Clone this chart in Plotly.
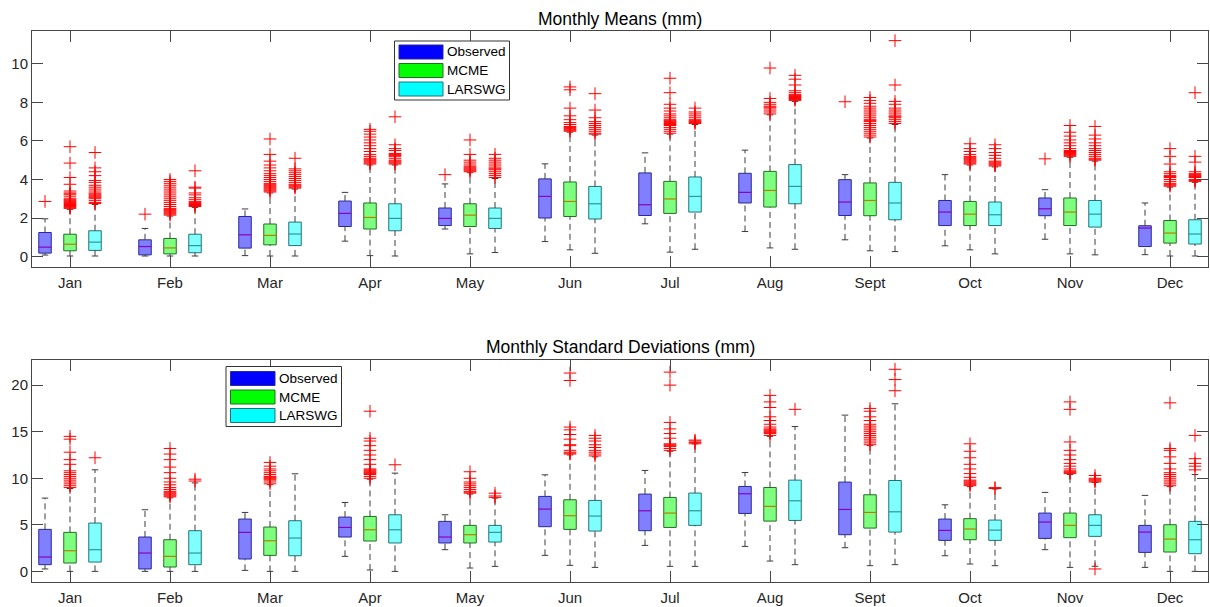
import plotly.graph_objects as go

months = ["Jan", "Feb", "Mar", "Apr", "May", "Jun", "Jul", "Aug", "Sept", "Oct", "Nov", "Dec"]
series_names = ["Observed", "MCME", "LARSWG"]

# ---------------- Monthly means (mm) ----------------
mean_obs_lower = [0.08, 0.03, 0.05, 0.8, 1.43, 0.78, 1.7, 1.3, 0.87, 0.56, 0.9, 0.1]
mean_obs_q1 = [0.18, 0.09, 0.44, 1.56, 1.61, 2.0, 2.13, 2.78, 2.13, 1.61, 2.12, 0.52]
mean_obs_med = [0.49, 0.52, 1.13, 2.24, 1.98, 3.12, 2.69, 3.33, 2.83, 2.31, 2.48, 1.48]
mean_obs_q3 = [1.25, 0.87, 2.08, 2.88, 2.52, 4.03, 4.34, 4.32, 3.99, 2.91, 3.04, 1.6]
mean_obs_upper = [1.96, 1.46, 2.47, 3.33, 3.77, 4.81, 5.38, 5.52, 4.25, 4.25, 3.47, 2.78]
mean_obs_out = [[2.86], [2.2], [], [], [4.25], [], [], [], [8.03], [], [5.07], []]

mean_mcme_lower = [0.03, 0.03, 0.03, 0.05, 0.14, 0.35, 0.23, 0.45, 0.3, 0.35, 0.14, 0.03]
mean_mcme_q1 = [0.3, 0.14, 0.61, 1.43, 1.56, 2.08, 2.24, 2.57, 2.12, 1.61, 1.61, 0.7]
mean_mcme_med = [0.64, 0.45, 1.1, 2.03, 2.15, 2.86, 2.99, 3.43, 2.91, 2.2, 2.31, 1.22]
mean_mcme_q3 = [1.16, 0.94, 1.69, 2.78, 2.74, 3.87, 3.9, 4.42, 3.82, 2.86, 3.04, 1.87]
mean_mcme_upper = [2.45, 2.1, 3.3, 4.75, 4.35, 6.45, 6.35, 7.35, 6.15, 4.75, 5.15, 3.6]
mean_mcme_out = [
    [2.5, 2.55, 2.6, 2.65, 2.7, 2.75, 2.8, 2.85, 2.9, 2.95, 3.0, 3.1, 3.2, 3.25, 3.3, 3.4, 3.75, 4.1, 4.85, 5.7],
    [2.15, 2.2, 2.25, 2.3, 2.35, 2.4, 2.45, 2.5, 2.6, 2.7, 2.8, 2.9, 3.0, 3.1, 3.2, 3.3, 3.4, 3.5, 3.6, 3.7, 3.8, 3.9, 4.0],
    [3.35, 3.4, 3.45, 3.5, 3.55, 3.6, 3.65, 3.7, 3.75, 3.8, 3.9, 4.0, 4.1, 4.2, 4.3, 4.45, 4.6, 4.75, 4.95, 5.3, 6.1],
    [4.8, 4.85, 4.9, 4.95, 5.0, 5.05, 5.1, 5.2, 5.3, 5.45, 5.6, 5.75, 5.9, 6.05, 6.2, 6.35, 6.5, 6.6],
    [4.4, 4.45, 4.5, 4.55, 4.6, 4.65, 4.7, 4.8, 4.9, 5.0, 5.3, 6.05],
    [6.5, 6.55, 6.6, 6.65, 6.7, 6.75, 6.85, 6.95, 7.1, 7.3, 7.7, 8.65, 8.8],
    [6.4, 6.5, 6.6, 6.7, 6.8, 6.85, 6.9, 6.95, 7.0, 7.05, 7.1, 7.2, 7.3, 7.4, 7.55, 7.7, 7.9, 8.5, 9.25],
    [7.4, 7.5, 7.6, 7.7, 7.75, 7.8, 7.9, 8.0, 8.2, 9.78],
    [6.2, 6.3, 6.4, 6.5, 6.6, 6.7, 6.8, 6.9, 7.0, 7.05, 7.1, 7.2, 7.3, 7.4, 7.5, 7.6, 7.7, 7.8, 7.95, 8.1, 8.25],
    [4.8, 4.85, 4.9, 4.95, 5.0, 5.05, 5.1, 5.15, 5.2, 5.3, 5.45, 5.6, 5.85],
    [5.2, 5.25, 5.3, 5.35, 5.4, 5.45, 5.5, 5.6, 5.75, 5.9, 6.05, 6.25, 6.45, 6.8],
    [3.65, 3.7, 3.75, 3.8, 3.9, 4.0, 4.1, 4.15, 4.2, 4.3, 4.4, 4.8, 5.2, 5.6],
]

mean_lars_lower = [0.03, 0.03, 0.03, 0.03, 0.21, 0.17, 0.38, 0.38, 0.26, 0.14, 0.09, 0.03]
mean_lars_q1 = [0.32, 0.2, 0.57, 1.34, 1.46, 1.95, 2.31, 2.74, 1.91, 1.61, 1.53, 0.65]
mean_lars_med = [0.75, 0.57, 1.17, 1.98, 1.98, 2.74, 3.12, 3.64, 2.78, 2.17, 2.2, 1.17]
mean_lars_q3 = [1.34, 1.16, 1.79, 2.74, 2.52, 3.64, 4.13, 4.77, 3.85, 2.83, 2.91, 1.91]
mean_lars_upper = [2.7, 2.55, 3.5, 4.75, 4.05, 6.3, 6.85, 8.05, 6.85, 4.65, 4.95, 3.85]
mean_lars_out = [
    [2.75, 2.8, 2.9, 3.0, 3.05, 3.1, 3.15, 3.2, 3.25, 3.3, 3.4, 3.5, 3.6, 3.7, 3.85, 3.95, 4.2, 4.4, 4.6, 5.4],
    [2.6, 2.65, 2.7, 2.75, 2.8, 2.85, 2.95, 3.05, 3.2, 3.3, 3.55, 3.6, 4.45],
    [3.55, 3.6, 3.65, 3.7, 3.75, 3.85, 3.95, 4.05, 4.15, 4.25, 4.35, 4.45, 4.55, 5.1],
    [4.8, 4.85, 4.9, 4.95, 5.0, 5.1, 5.2, 5.25, 5.3, 5.35, 5.5, 5.6, 5.8, 7.25],
    [4.1, 4.2, 4.3, 4.4, 4.5, 4.55, 4.6, 4.7, 4.8, 4.9, 5.0, 5.1, 5.3],
    [6.35, 6.4, 6.5, 6.6, 6.7, 6.8, 6.9, 7.0, 7.2, 7.6, 8.45],
    [6.9, 6.95, 7.0, 7.05, 7.1, 7.2, 7.3, 7.4, 7.5, 7.7],
    [8.1, 8.15, 8.2, 8.25, 8.3, 8.35, 8.4, 8.5, 8.6, 8.9, 9.2, 9.4],
    [6.9, 7.0, 7.1, 7.2, 7.25, 7.3, 7.4, 7.5, 7.6, 7.7, 7.9, 8.05, 8.9, 11.2],
    [4.7, 4.75, 4.8, 4.85, 4.9, 4.95, 5.1, 5.25, 5.4, 5.6, 5.8],
    [5.0, 5.05, 5.1, 5.2, 5.3, 5.4, 5.5, 5.6, 5.75, 5.9, 6.1, 6.3, 6.75],
    [3.9, 3.95, 4.0, 4.1, 4.15, 4.2, 4.25, 4.3, 4.4, 4.9, 5.2, 8.5],
]

# ---------------- Monthly standard deviations (mm) ----------------
sd_obs_lower = [0.26, 0.0, 0.11, 1.61, 2.33, 1.72, 2.79, 2.68, 2.54, 1.68, 2.33, 0.43]
sd_obs_q1 = [0.72, 0.26, 1.33, 3.69, 3.05, 4.8, 4.37, 6.22, 3.94, 3.33, 3.54, 2.04]
sd_obs_med = [1.54, 1.97, 4.19, 4.72, 3.69, 6.69, 6.51, 8.34, 6.65, 4.4, 5.3, 4.22]
sd_obs_q3 = [4.51, 3.69, 5.62, 5.83, 5.37, 8.05, 8.3, 9.12, 9.59, 5.62, 6.26, 4.94]
sd_obs_upper = [7.87, 6.62, 6.33, 7.4, 6.08, 10.37, 10.84, 10.62, 16.78, 7.15, 8.48, 8.16]
sd_obs_out = [[], [], [], [], [], [], [], [], [], [], [], []]

sd_mcme_lower = [0.0, 0.0, 0.0, 0.15, 0.36, 0.65, 0.54, 1.11, 0.61, 0.79, 0.43, 0.0]
sd_mcme_q1 = [0.9, 0.47, 1.72, 3.26, 3.05, 4.51, 4.72, 5.4, 4.65, 3.4, 3.62, 2.08]
sd_mcme_med = [2.22, 1.61, 3.29, 4.47, 3.94, 5.98, 6.26, 6.98, 6.33, 4.55, 4.94, 3.47]
sd_mcme_q3 = [4.19, 3.4, 4.76, 5.9, 4.94, 7.69, 7.94, 9.01, 8.23, 5.66, 6.26, 5.01]
sd_mcme_upper = [8.9, 7.9, 9.3, 9.9, 8.3, 12.5, 12.9, 14.5, 13.5, 9.1, 10.4, 9.1]
sd_mcme_out = [
    [9.0, 9.2, 9.4, 9.6, 9.8, 10.0, 10.2, 10.4, 10.6, 10.8, 11.5, 12.0, 12.8, 14.2, 14.5],
    [8.0, 8.1, 8.2, 8.3, 8.4, 8.5, 8.6, 8.8, 9.0, 9.3, 9.6, 10.0, 10.6, 11.2, 12.0, 12.6, 13.2],
    [9.4, 9.6, 9.8, 9.9, 10.0, 10.1, 10.2, 10.4, 10.6, 10.8, 11.0, 11.3, 11.7],
    [10.0, 10.2, 10.4, 10.5, 10.6, 10.7, 10.8, 10.9, 11.0, 11.5, 12.0, 12.5, 13.0, 13.5, 14.0, 14.3, 17.2],
    [8.4, 8.5, 8.6, 8.8, 9.0, 9.2, 9.4, 9.6, 10.0, 10.7],
    [12.6, 12.7, 12.8, 13.0, 13.5, 13.6, 14.2, 14.7, 15.2, 15.5, 20.5, 21.3],
    [13.0, 13.2, 13.4, 13.5, 13.6, 13.7, 14.3, 14.8, 15.3, 16.0, 20.0, 21.4],
    [14.6, 14.8, 14.9, 15.0, 15.1, 15.2, 15.3, 15.5, 15.8, 16.2, 16.6, 17.6, 18.2, 18.9],
    [13.6, 13.8, 14.0, 14.2, 14.4, 14.6, 14.8, 15.0, 15.2, 15.4, 15.6, 15.8, 16.2, 16.6, 17.2, 17.5],
    [9.2, 9.3, 9.4, 9.5, 9.6, 9.7, 9.8, 10.1, 10.5, 11.0, 11.5, 12.2, 12.9, 13.7],
    [10.5, 10.6, 10.7, 10.8, 11.0, 11.3, 11.6, 12.0, 12.5, 13.0, 13.9, 17.4, 18.2],
    [9.2, 9.4, 9.6, 9.8, 10.0, 10.2, 10.4, 10.6, 11.0, 11.6, 12.3, 13.0, 13.2, 18.1],
]

sd_lars_lower = [0.0, 0.0, 0.0, 0.0, 0.54, 0.43, 0.54, 0.72, 0.72, 0.61, 0.55, 0.0]
sd_lars_q1 = [1.0, 0.72, 1.68, 3.05, 3.15, 4.33, 4.94, 5.47, 4.22, 3.33, 3.76, 1.9]
sd_lars_med = [2.33, 1.97, 3.58, 4.47, 4.19, 5.94, 6.51, 7.58, 6.4, 4.43, 4.94, 3.4]
sd_lars_q3 = [5.19, 4.37, 5.44, 6.08, 4.94, 7.62, 8.41, 9.8, 9.76, 5.51, 6.08, 5.37]
sd_lars_upper = [10.91, 9.5, 10.48, 10.55, 7.87, 12.3, 13.7, 15.56, 18.0, 8.85, 9.55, 10.4]
sd_lars_out = [
    [12.2], [9.7, 9.9], [], [11.45], [7.95, 8.1, 8.4],
    [12.4, 12.6, 12.8, 13.0, 13.3, 13.6, 14.0, 14.3, 14.6],
    [13.7, 13.85, 14.0, 14.1], [17.4], [19.4, 20.6, 21.7], [8.9, 9.0],
    [9.6, 9.7, 9.8, 9.9, 10.0, 10.3, 0.26], [10.9, 11.3, 11.6, 12.1, 14.6],
]

# ---------------- styling ----------------
fills = ["rgba(0,0,255,0.5)", "rgba(0,255,0,0.5)", "rgba(0,255,255,0.5)"]
solid = ["rgb(0,0,255)", "rgb(0,255,0)", "rgb(0,255,255)"]
edges = ["rgb(40,40,150)", "rgb(35,110,35)", "rgb(35,115,115)"]
medcols = ["rgb(140,0,190)", "rgb(175,130,0)", "rgb(50,150,150)"]
offsets = [-0.25, 0.0, 0.25]
BOXW = 0.125
CAPW = 0.065
WH = "rgb(60,60,60)"
AX = "rgb(70,70,70)"
FONT = "Liberation Sans, Arial, sans-serif"

fig = go.Figure()


def add_panel(stats, xa, ya):
    for s, (lo, q1, md, q3, up, outs) in enumerate(stats):
        pos = [m + 1 + offsets[s] for m in range(12)]
        wx, wy = [], []
        cx, cy = [], []
        mx, my = [], []
        ox, oy = [], []
        for i, p in enumerate(pos):
            wx += [p, p, None, p, p, None]
            wy += [q3[i], up[i], None, lo[i], q1[i], None]
            cx += [p - CAPW / 2, p + CAPW / 2, None, p - CAPW / 2, p + CAPW / 2, None]
            cy += [up[i], up[i], None, lo[i], lo[i], None]
            mx += [p - BOXW / 2, p + BOXW / 2, None]
            my += [md[i], md[i], None]
            ox += [p] * len(outs[i])
            oy += list(outs[i])
        fig.add_trace(go.Scatter(x=wx, y=wy, mode="lines", xaxis=xa, yaxis=ya,
                                 line=dict(color=WH, width=1, dash="6px,4px"),
                                 showlegend=False, hoverinfo="skip"))
        fig.add_trace(go.Scatter(x=cx, y=cy, mode="lines", xaxis=xa, yaxis=ya,
                                 line=dict(color=WH, width=1),
                                 showlegend=False, hoverinfo="skip"))
        fig.add_trace(go.Bar(x=pos, y=[q3[i] - q1[i] for i in range(12)], base=q1,
                             width=BOXW, xaxis=xa, yaxis=ya,
                             marker=dict(color=fills[s], line=dict(color=edges[s], width=1)),
                             name=series_names[s], showlegend=False))
        fig.add_trace(go.Scatter(x=mx, y=my, mode="lines", xaxis=xa, yaxis=ya,
                                 line=dict(color=medcols[s], width=1.2),
                                 showlegend=False, hoverinfo="skip"))
        fig.add_trace(go.Scatter(x=ox, y=oy, mode="markers", xaxis=xa, yaxis=ya,
                                 marker=dict(symbol="cross-thin", size=9,
                                             line=dict(color="rgb(255,0,0)", width=1)),
                                 showlegend=False, hoverinfo="skip"))


add_panel([
    (mean_obs_lower, mean_obs_q1, mean_obs_med, mean_obs_q3, mean_obs_upper, mean_obs_out),
    (mean_mcme_lower, mean_mcme_q1, mean_mcme_med, mean_mcme_q3, mean_mcme_upper, mean_mcme_out),
    (mean_lars_lower, mean_lars_q1, mean_lars_med, mean_lars_q3, mean_lars_upper, mean_lars_out),
], "x", "y")
add_panel([
    (sd_obs_lower, sd_obs_q1, sd_obs_med, sd_obs_q3, sd_obs_upper, sd_obs_out),
    (sd_mcme_lower, sd_mcme_q1, sd_mcme_med, sd_mcme_q3, sd_mcme_upper, sd_mcme_out),
    (sd_lars_lower, sd_lars_q1, sd_lars_med, sd_lars_q3, sd_lars_upper, sd_lars_out),
], "x2", "y2")

# ---------------- layout ----------------
W, H = 1210, 607
ML, MR, MT, MB = 32, 2, 31, 25
PW, PH = W - ML - MR, H - MT - MB


def px(xp):
    return (xp - ML) / PW


def py(yp):
    return (H - MB - yp) / PH


xcommon = dict(range=[0.62, 12.38], tickmode="array", tickvals=list(range(1, 13)), ticktext=months,
               ticks="inside", ticklen=11, tickcolor=AX, showline=True, linecolor=AX, linewidth=1,
               mirror="ticks", showgrid=False, zeroline=False, ticklabelstandoff=2,
               tickfont=dict(family=FONT, size=15, color="rgb(38,38,38)"))
ycommon = dict(ticks="inside", ticklen=11, tickcolor=AX, showline=True, linecolor=AX, linewidth=1,
               mirror="ticks", showgrid=False, zeroline=False,
               tickfont=dict(family=FONT, size=15, color="rgb(38,38,38)"))

fig.update_layout(
    width=W, height=H,
    margin=dict(l=ML, r=MR, t=MT, b=MB, pad=0),
    paper_bgcolor="white", plot_bgcolor="white",
    barmode="overlay", showlegend=False,
    xaxis=dict(domain=[0, 1], anchor="y", **xcommon),
    yaxis=dict(domain=[py(267), 1], anchor="x", range=[-0.54, 11.7],
               tickvals=[0, 2, 4, 6, 8, 10], **ycommon),
    xaxis2=dict(domain=[0, 1], anchor="y2", **xcommon),
    yaxis2=dict(domain=[0, py(360)], anchor="x2", range=[-1.14, 22.7],
                tickvals=[0, 5, 10, 15, 20], **ycommon),
)

annotations = [
    dict(text="Monthly Means (mm)", x=0.5, y=py(19), xref="paper", yref="paper",
         xanchor="center", yanchor="middle", showarrow=False,
         font=dict(family=FONT, size=17.5, color="black")),
    dict(text="Monthly Standard Deviations (mm)", x=0.5, y=py(346.7), xref="paper", yref="paper",
         xanchor="center", yanchor="middle", showarrow=False,
         font=dict(family=FONT, size=17.5, color="black")),
]
shapes = []


def add_legend(box, sw_x, sw_ys, text_x):
    shapes.append(dict(type="rect", xref="paper", yref="paper",
                       x0=px(box[0]), x1=px(box[1]), y0=py(box[3]), y1=py(box[2]),
                       fillcolor="white", line=dict(color="rgb(50,50,50)", width=1), layer="above"))
    for s, (y0, y1) in enumerate(sw_ys):
        shapes.append(dict(type="rect", xref="paper", yref="paper",
                           x0=px(sw_x[0]), x1=px(sw_x[1]), y0=py(y1), y1=py(y0),
                           fillcolor=solid[s], line=dict(color=edges[s], width=1), layer="above"))
        annotations.append(dict(text=series_names[s], x=px(text_x), y=py((y0 + y1) / 2),
                                xref="paper", yref="paper", xanchor="left", yanchor="middle",
                                showarrow=False,
                                font=dict(family=FONT, size=13.5, color="black")))


add_legend((394.5, 509.5, 41, 100), (399, 443), [(45, 59), (63.5, 77.5), (82, 96)], 445)
add_legend((226, 341.5, 366.5, 426.5), (230.5, 275), [(371.5, 385.5), (390, 404), (408.5, 422.5)], 276.5)

fig.update_layout(annotations=annotations, shapes=shapes)

fig.write_html("out.html", config={"displayModeBar": False},
               post_script="document.body.style.margin='0';document.body.style.overflow='hidden';")
